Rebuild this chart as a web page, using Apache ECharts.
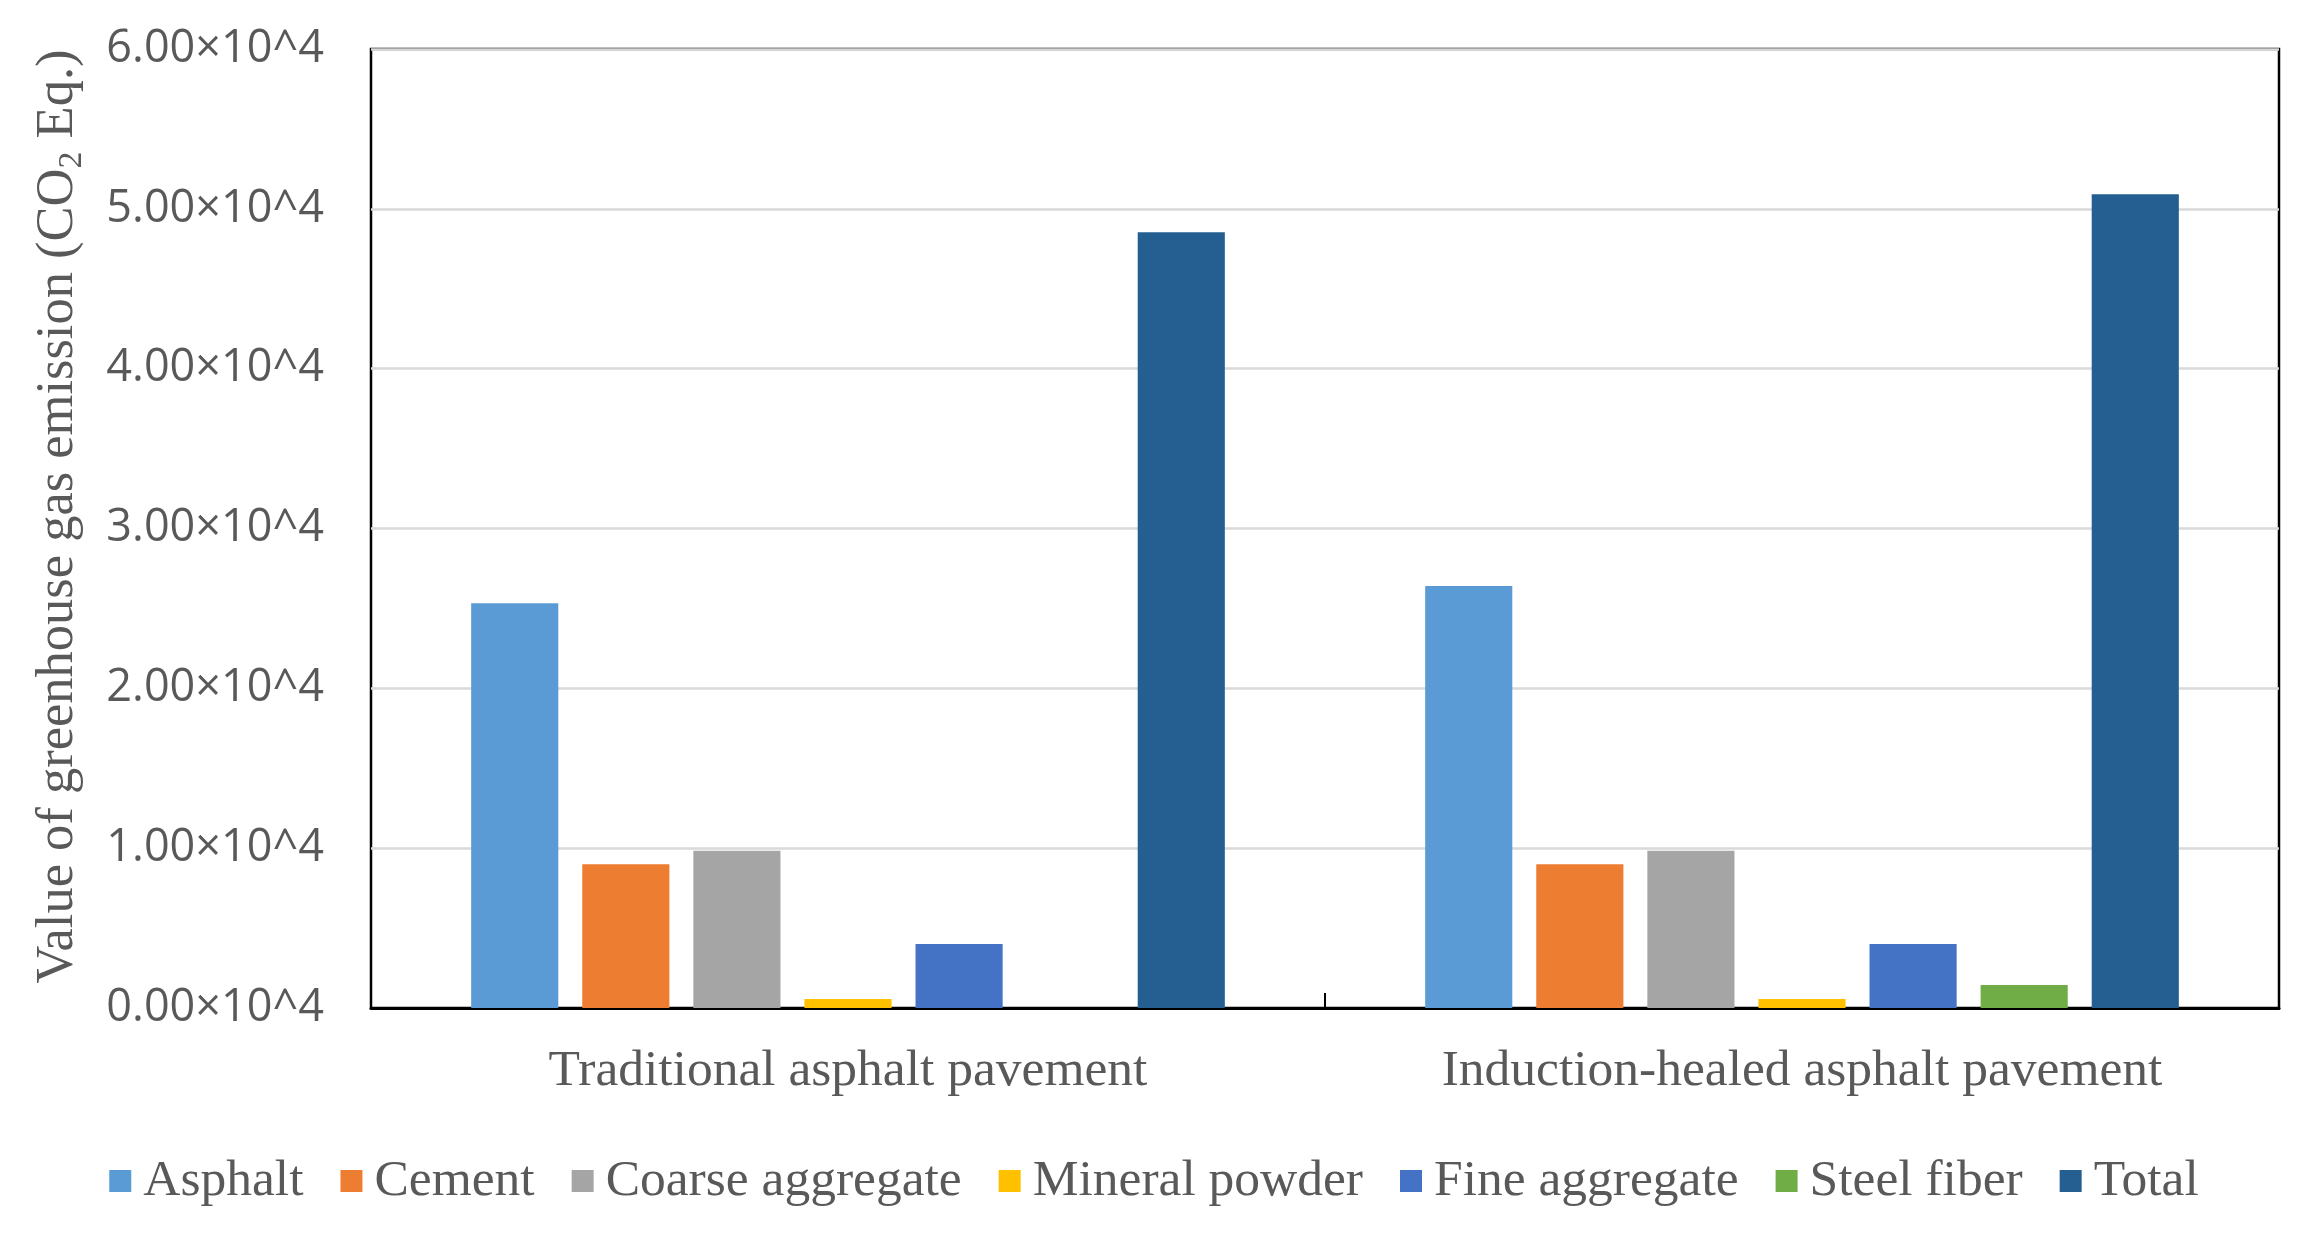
<!DOCTYPE html>
<html>
<head>
<meta charset="utf-8">
<style>
  html, body { margin: 0; padding: 0; background: #ffffff; }
  #chart { width: 2308px; height: 1244px; }
</style>
<script src="https://cdn.jsdelivr.net/npm/echarts@6/dist/echarts.min.js"></script>
</head>
<body>
<div id="chart"></div>
<script>
// ---- data ----
var categories = ['Traditional asphalt pavement', 'Induction-healed asphalt pavement'];
var seriesNames = ['Asphalt', 'Cement', 'Coarse aggregate', 'Mineral powder', 'Fine aggregate', 'Steel fiber', 'Total'];
var asphalt = [25320, 26410];
var cement = [8990, 8990];
var coarseAggregate = [9840, 9840];
var mineralPowder = [560, 560];
var fineAggregate = [4000, 4000];
var steelFiber = [0, 1440];
var total = [48540, 50920];
var yTickLabels = ['0.00×10^4', '1.00×10^4', '2.00×10^4', '3.00×10^4', '4.00×10^4', '5.00×10^4', '6.00×10^4'];

var seriesValues = [asphalt, cement, coarseAggregate, mineralPowder, fineAggregate, steelFiber, total];
var colors = ['#5B9BD5', '#ED7D31', '#A5A5A5', '#FFC000', '#4472C4', '#70AD47', '#255E91'];

var chart = echarts.init(document.getElementById('chart'), null, { renderer: 'canvas' });

var series = seriesNames.map(function (name, i) {
  return {
    name: name,
    type: 'bar',
    data: seriesValues[i],
    barGap: '27.5%',
    barCategoryGap: '21%',
    itemStyle: { color: colors[i] }
  };
});

chart.setOption({
  animation: false,
  color: colors,
  grid: {
    left: 371, right: 29, top: 49, bottom: 236,
    show: true, borderColor: '#000000', borderWidth: 2.5, backgroundColor: 'transparent'
  },
  legend: {
    data: seriesNames,
    bottom: 32,
    left: 'center',
    itemWidth: 22,
    itemHeight: 22,
    itemGap: 37,
    icon: 'rect',
    textStyle: { fontFamily: 'Liberation Serif', fontSize: 51.5, color: '#595959', padding: [0, 0, 0, 7] }
  },
  xAxis: {
    type: 'category',
    data: categories,
    axisLine: { show: true, lineStyle: { color: '#000000', width: 3 } },
    axisTick: { show: true, inside: true, length: 15, lineStyle: { color: '#000000', width: 2 } },
    axisLabel: { fontFamily: 'Liberation Serif', fontSize: 51.5, color: '#595959', margin: 37 },
    splitLine: { show: false }
  },
  yAxis: {
    type: 'value',
    min: 0,
    max: 60000,
    interval: 10000,
    name: '{a|Value of greenhouse gas emission (CO}{s|2}{a| Eq.)}',
    nameLocation: 'middle',
    nameGap: 282,
    nameTextStyle: {
      padding: [0, 0, 0, 24],
      rich: {
        a: { fontFamily: 'Liberation Serif', fontSize: 52.5, color: '#595959', lineHeight: 62, verticalAlign: 'middle' },
        s: { fontFamily: 'Liberation Serif', fontSize: 34, color: '#595959', lineHeight: 62, verticalAlign: 'bottom' }
      }
    },
    axisLine: { show: false },
    axisTick: { show: false },
    axisLabel: {
      fontFamily: 'Open Sans', fontSize: 45, color: '#595959', margin: 47,
      formatter: function (v) { return yTickLabels[Math.round(v / 10000)]; }
    },
    splitLine: { show: true, lineStyle: { color: '#D9D9D9', width: 2.5 } }
  },
  series: series
});
</script>
</body>
</html>
